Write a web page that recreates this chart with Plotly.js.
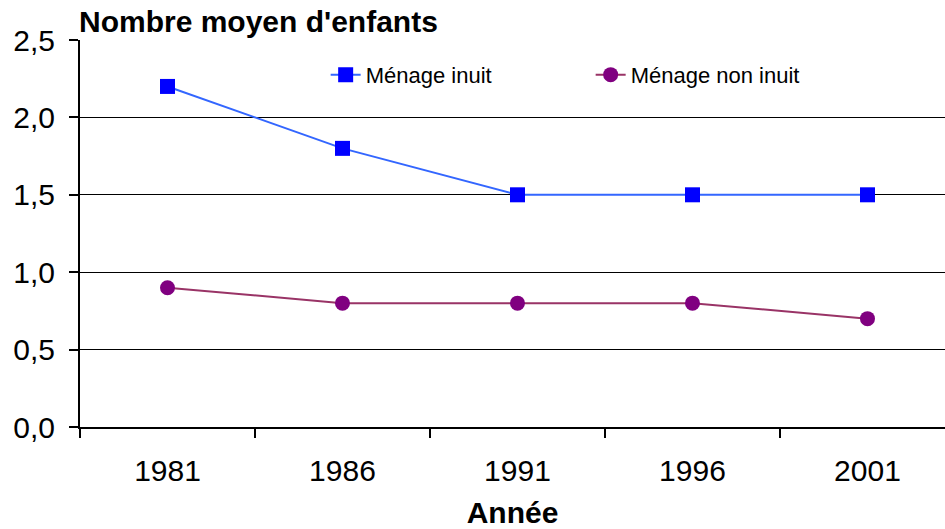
<!DOCTYPE html>
<html>
<head>
<meta charset="utf-8">
<script src="https://cdn.plot.ly/plotly-3.0.1.min.js"></script>
<style>html,body{margin:0;padding:0;background:#fff;}#chart{width:945px;height:529px;}</style>
</head>
<body>
<div id="chart"></div>
<script>
const years = ["1981", "1986", "1991", "1996", "2001"];
const inuit = [2.2, 1.8, 1.5, 1.5, 1.5];
const nonInuit = [0.9, 0.8, 0.8, 0.8, 0.7];
const seriesNames = ["Ménage inuit", "Ménage non inuit"];
const yTitle = "Nombre moyen d'enfants";
const xTitle = "Année";

const FONT = "Liberation Sans, Arial, sans-serif";

const traces = [
  {
    x: years, y: inuit, name: seriesNames[0], type: "scatter", mode: "lines+markers",
    line: {color: "#3366FF", width: 2},
    marker: {symbol: "square", size: 15, color: "#0000FF", line: {width: 0}},
    cliponaxis: false
  },
  {
    x: years, y: nonInuit, name: seriesNames[1], type: "scatter", mode: "lines+markers",
    line: {color: "#993366", width: 2},
    marker: {symbol: "circle", size: 15, color: "#800080", line: {width: 0}},
    cliponaxis: false
  }
];

const layout = {
  width: 945, height: 529,
  margin: {l: 80, r: 0, t: 40, b: 102, pad: 0},
  paper_bgcolor: "#fff", plot_bgcolor: "#fff",
  separators: ", ",
  font: {family: FONT, color: "#000", size: 30},
  showlegend: true,
  legend: {
    orientation: "h", x: 0.284, y: 0.91, xanchor: "left", yanchor: "middle",
    font: {family: FONT, size: 22, color: "#000"},
    bgcolor: "rgba(0,0,0,0)", entrywidth: 220, traceorder: "normal"
  },
  xaxis: {
    type: "category", range: [-0.5, 4.443], fixedrange: true,
    showgrid: false, zeroline: false,
    showline: true, linecolor: "#000", linewidth: 2,
    ticks: "outside", tickson: "boundaries", ticklen: 9, tickwidth: 2, tickcolor: "#000",
    ticklabelstandoff: 16,
    tickfont: {family: FONT, size: 30, color: "#000"},
    title: {text: xTitle, font: {family: FONT, size: 30, color: "#000", weight: "bold"}, standoff: 29}
  },
  yaxis: {
    range: [0, 2.5], dtick: 0.5, tick0: 0, tickformat: ".1f", fixedrange: true,
    showgrid: true, gridcolor: "#000", gridwidth: 1,
    zeroline: false,
    showline: true, linecolor: "#000", linewidth: 2,
    ticks: "outside", ticklen: 9, tickwidth: 2, tickcolor: "#000",
    ticklabelstandoff: 8,
    tickfont: {family: FONT, size: 30, color: "#000"}
  },
  annotations: [
    {text: "<b>" + yTitle + "</b>", xref: "paper", yref: "paper", x: 0, y: 1, xanchor: "left", yanchor: "bottom",
     xshift: -3, yshift: 0, showarrow: false, font: {family: FONT, size: 30, color: "#000"}}
  ]
};

Plotly.newPlot("chart", traces, layout, {displayModeBar: false, staticPlot: true});
</script>
</body>
</html>
